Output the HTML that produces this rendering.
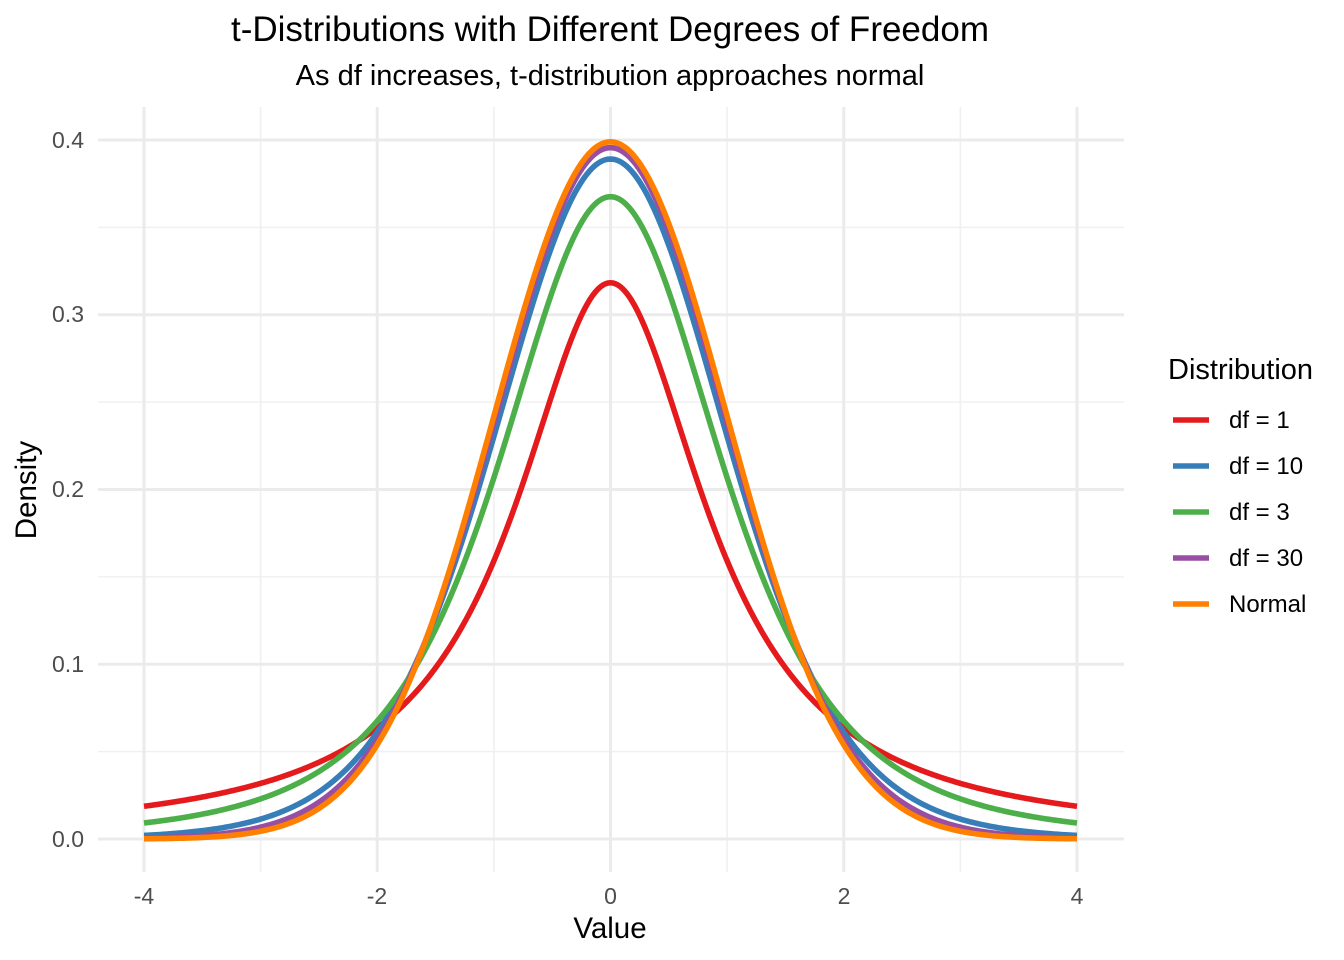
<!DOCTYPE html>
<html><head><meta charset="utf-8"><style>body{margin:0;background:#fff}svg{display:block}text{font-family:"Liberation Sans",sans-serif}</style></head>
<body>
<svg id="s" width="1344" height="960" viewBox="0 0 1344 960" xmlns="http://www.w3.org/2000/svg">
<rect width="1344" height="960" fill="#fff"/>
<g id="grid"></g>
<g id="lines" fill="none" stroke-width="5.6" stroke-linejoin="round"></g>
<text x="610" y="41" font-size="35" text-anchor="middle" fill="#000">t-Distributions with Different Degrees of Freedom</text>
<text x="610" y="85" font-size="29" text-anchor="middle" fill="#000">As df increases, t-distribution approaches normal</text>
<g font-size="23" fill="#4d4d4d" text-anchor="end">
<text x="84" y="847">0.0</text><text x="84" y="672">0.1</text><text x="84" y="497">0.2</text><text x="84" y="322">0.3</text><text x="84" y="148">0.4</text>
</g>
<g font-size="23" fill="#4d4d4d" text-anchor="middle">
<text x="144" y="904">-4</text><text x="377" y="904">-2</text><text x="610.5" y="904">0</text><text x="844" y="904">2</text><text x="1077" y="904">4</text>
</g>
<text x="610" y="938" font-size="29.5" text-anchor="middle" fill="#000">Value</text>
<text transform="translate(36,490) rotate(-90)" font-size="29.5" text-anchor="middle" fill="#000">Density</text>
<text x="1168" y="379" font-size="29" fill="#000">Distribution</text>
<g stroke-width="5.6">
<line x1="1173" x2="1209" y1="420" y2="420" stroke="#E41A1C"/>
<line x1="1173" x2="1209" y1="466" y2="466" stroke="#377EB8"/>
<line x1="1173" x2="1209" y1="512" y2="512" stroke="#4DAF4A"/>
<line x1="1173" x2="1209" y1="558" y2="558" stroke="#984EA3"/>
<line x1="1173" x2="1209" y1="604" y2="604" stroke="#FF7F00"/>
</g>
<g font-size="24" fill="#000">
<text x="1229" y="428">df = 1</text><text x="1229" y="474">df = 10</text><text x="1229" y="520">df = 3</text><text x="1229" y="566">df = 30</text><text x="1229" y="612">Normal</text>
</g>
</svg>
<script>
var X=function(v){return 610.5+v*116.625},Y=function(v){return 839-v*1747.5};
var g=document.getElementById('grid'),h='';
for(var i=-3;i<=3;i+=2)h+='<line x1="'+X(i)+'" x2="'+X(i)+'" y1="107" y2="872" stroke="#f0f0f0" stroke-width="1.6"/>';
for(var j=0.05;j<0.42;j+=0.1)h+='<line x1="98" x2="1124" y1="'+Y(j)+'" y2="'+Y(j)+'" stroke="#f0f0f0" stroke-width="1.6"/>';
for(var i=-4;i<=4;i+=2)h+='<line x1="'+X(i)+'" x2="'+X(i)+'" y1="107" y2="872" stroke="#ebebeb" stroke-width="3"/>';
for(var j=0;j<0.42;j+=0.1)h+='<line x1="98" x2="1124" y1="'+Y(j)+'" y2="'+Y(j)+'" stroke="#ebebeb" stroke-width="3"/>';
g.innerHTML=h;
function t(v,c){return function(x){return c*Math.pow(1+x*x/v,-(v+1)/2)}}
var S=[[t(1,0.3183099),'#E41A1C'],[t(10,0.3891084),'#377EB8'],[t(3,0.3675526),'#4DAF4A'],[t(30,0.3956321),'#984EA3'],[function(x){return 0.3989423*Math.exp(-x*x/2)},'#FF7F00']];
var L='';
S.forEach(function(s){var d='';for(var k=0;k<=400;k++){var x=-4+k*0.02;d+=(k?'L':'M')+X(x).toFixed(2)+' '+Y(s[0](x)).toFixed(2)}L+='<path d="'+d+'" stroke="'+s[1]+'"/>'});
document.getElementById('lines').innerHTML=L;
</script>
</body></html>
